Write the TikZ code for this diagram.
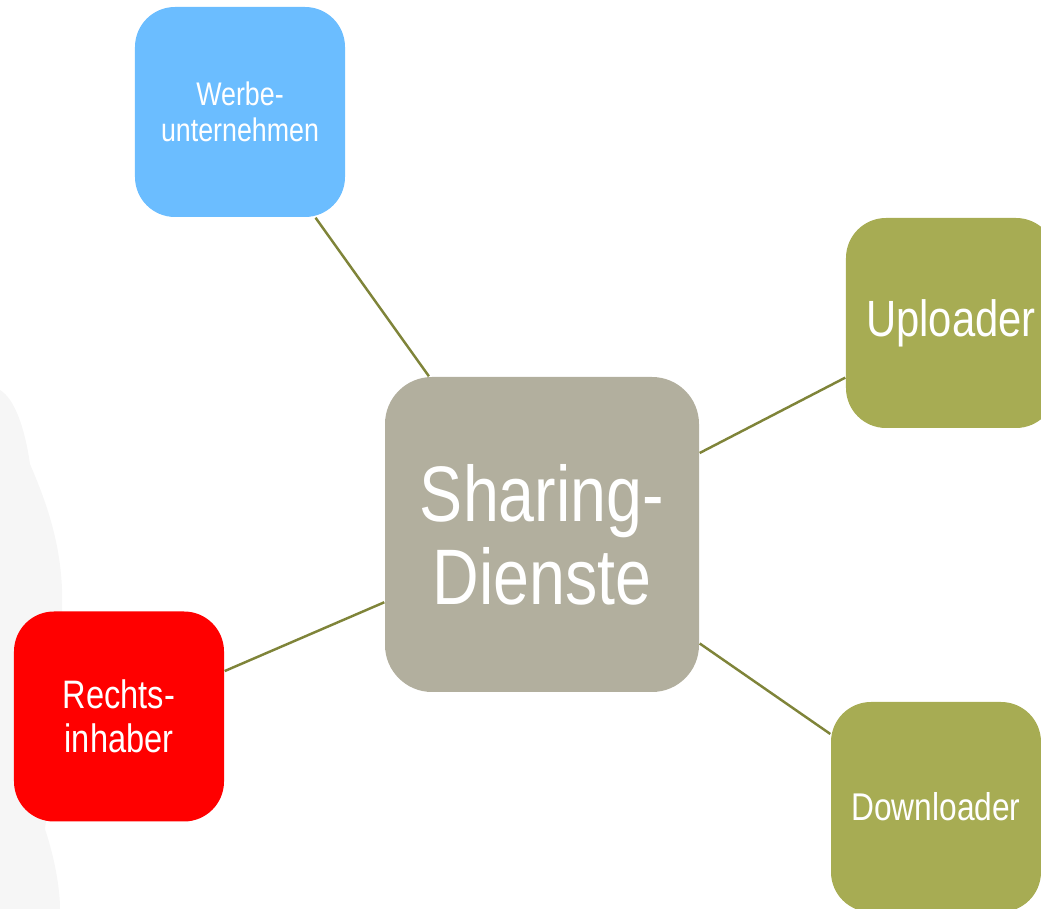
\documentclass[tikz,border=0pt]{standalone}
\usepackage{fontspec}
\setmainfont{Liberation Sans}[FakeStretch=0.82]

\definecolor{blaugrau}{HTML}{6BBDFF}
\definecolor{steingrau}{HTML}{B2AF9E}
\definecolor{oliv}{HTML}{A7AC53}
\definecolor{linie}{HTML}{7F8439}
\definecolor{schatten}{HTML}{F6F6F6}

\tikzset{
  kasten/.style={rectangle, rounded corners=0.4cm, minimum width=2.1cm,
    minimum height=2.1cm, inner sep=0pt, text=white, align=center},
  verbindung/.style={draw=linie, line width=0.7pt}
}

\begin{document}
\begin{tikzpicture}
		\useasboundingbox (0,0) rectangle (10.41,9.09);
		\clip (0,0) rectangle (10.41,9.09);
		
		% faint shape in the background on the left
		\fill[schatten] (0,5.19) .. controls (0.15,5.1) and (0.25,4.8) .. (0.3,4.45)
			.. controls (0.45,4.1) and (0.6,3.7) .. (0.62,3.2)
			.. controls (0.64,2.4) and (0.5,1.2) .. (0.45,0.8)
			.. controls (0.55,0.5) and (0.6,0.2) .. (0.6,0) -- (0,0) -- cycle;
		
		\node (share) at (5.42,3.745) [kasten, fill=steingrau, minimum width=3.14cm,
			minimum height=3.15cm, rounded corners=0.47cm,
			font=\fontsize{22.4}{23.6}\selectfont] {Sharing-\\Dienste};
		\node (werbe) at (2.40,7.97) [kasten, fill=blaugrau,
			font=\fontsize{9.3}{10.4}\selectfont] {Werbe-\\unternehmen};
		\node (upload) at (9.51,5.86) [kasten, fill=oliv,
			font=\fontsize{14.5}{16}\selectfont] {Uploader};
		\node (rechte) at (1.19,1.925) [kasten, fill=red,
			font=\fontsize{11.3}{12.5}\selectfont] {Rechts-\\inhaber};
		\node (download) at (9.36,1.02) [kasten, fill=oliv,
			font=\fontsize{11}{12}\selectfont] {Downloader};
		
		\draw[verbindung] (share)--(werbe);
		\draw[verbindung] (share)--(upload);
		\draw[verbindung] (share)--(rechte);
		\draw[verbindung] (share)--(download);
	\end{tikzpicture}
\end{document}
